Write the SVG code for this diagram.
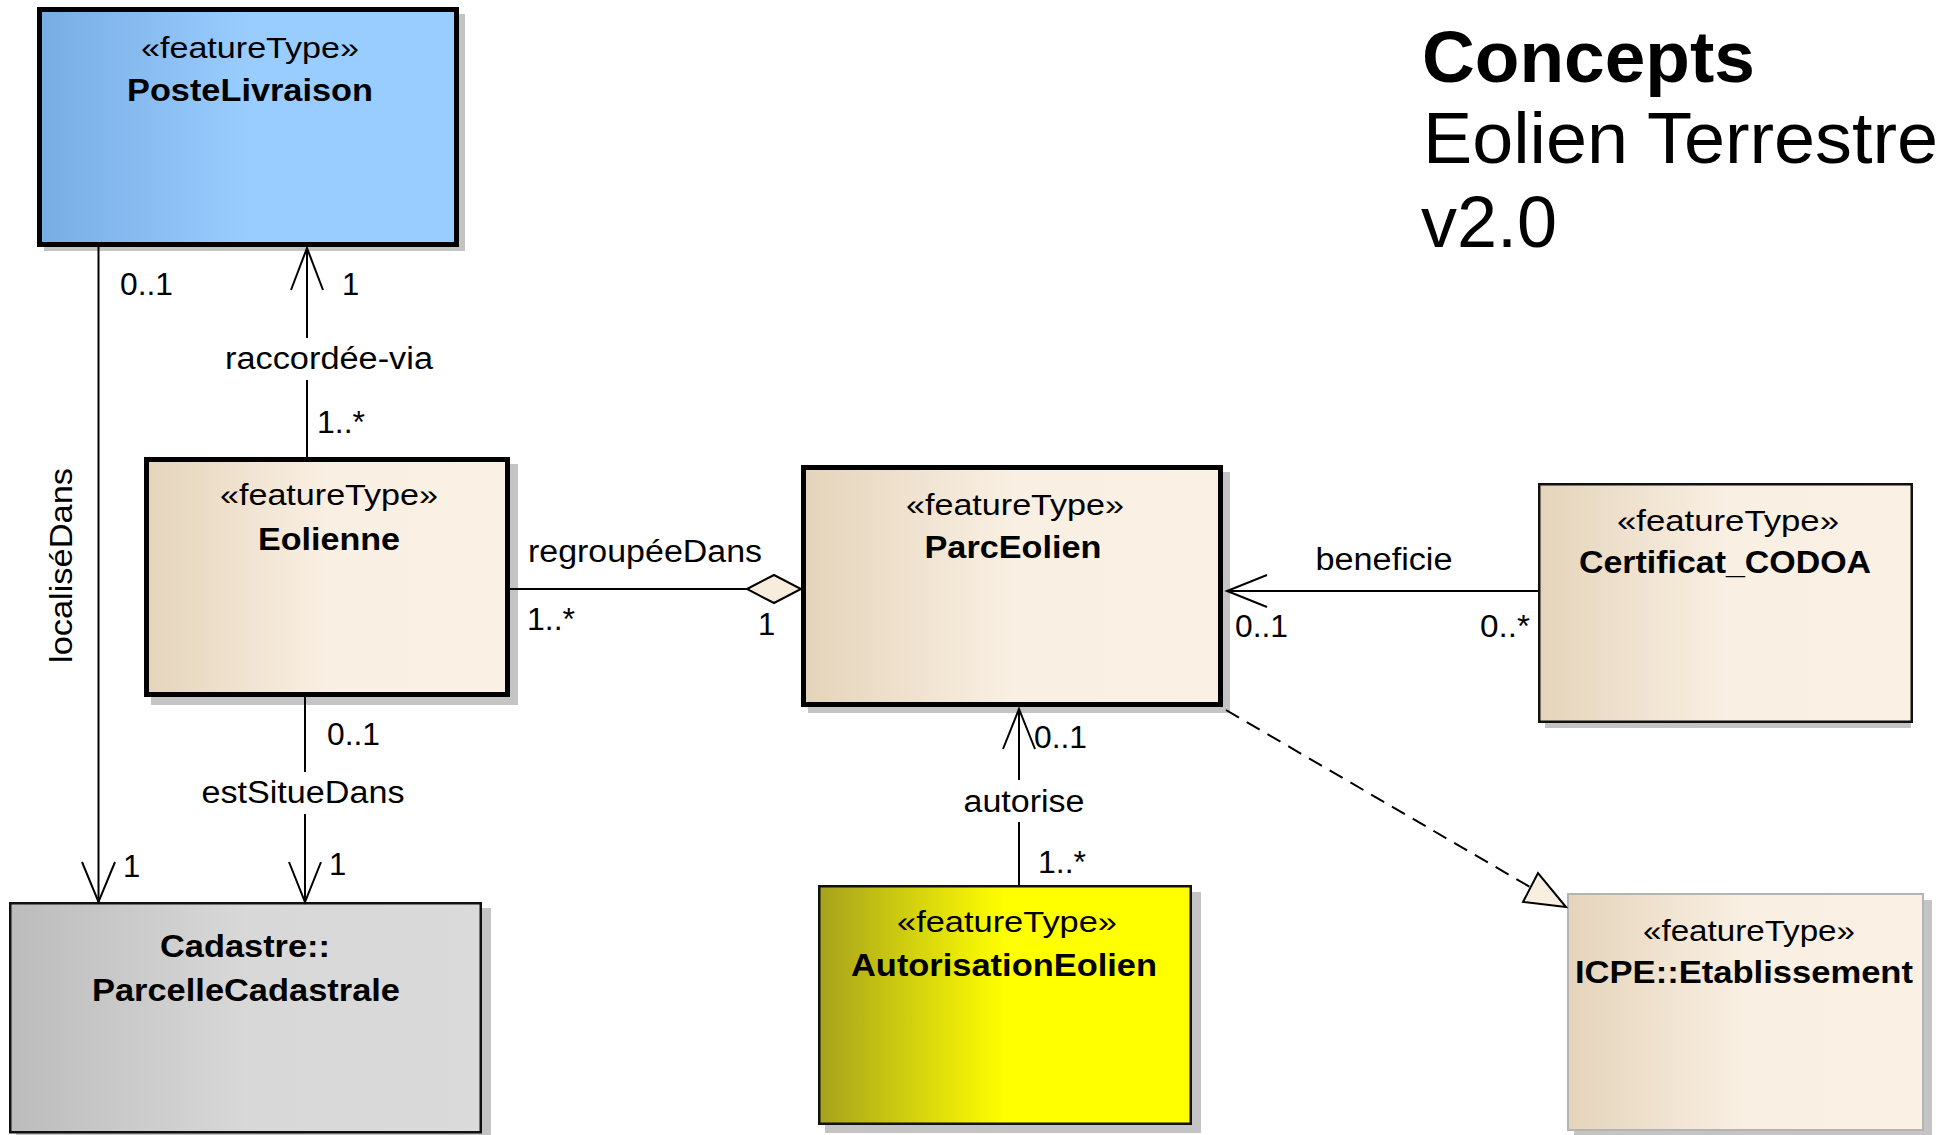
<svg xmlns="http://www.w3.org/2000/svg" width="1939" height="1135" viewBox="0 0 1939 1135">
<style>
text{font-family:"Liberation Sans",Arial,sans-serif;fill:#000}
.st{font-size:30px;text-anchor:middle}
.nm{font-size:31px;font-weight:bold;text-anchor:middle}
.lb{font-size:31px}
.lbm{font-size:31px;text-anchor:middle}
.shadow{fill:#c4c4c4}
.thick{stroke:#000;stroke-width:5}
.thin{stroke:#111;stroke-width:2.5}
.edge{fill:none;stroke:#000;stroke-width:2}
.dash{fill:none;stroke:#000;stroke-width:2;stroke-dasharray:15 9}
.title{font-size:72px}
</style>
<defs>
<linearGradient id="gBlue" x1="0" y1="0" x2="1" y2="0"><stop offset="0" stop-color="#78ade4"/><stop offset="0.5" stop-color="#99ccff"/><stop offset="1" stop-color="#99ccff"/></linearGradient>
<linearGradient id="gBeige" x1="0" y1="0" x2="1" y2="0"><stop offset="0" stop-color="#e5d4bb"/><stop offset="0.5" stop-color="#f9efe2"/><stop offset="1" stop-color="#faf0e4"/></linearGradient>
<linearGradient id="gGray" x1="0" y1="0" x2="1" y2="0"><stop offset="0" stop-color="#bcbcbc"/><stop offset="0.5" stop-color="#d8d8d8"/><stop offset="1" stop-color="#dadada"/></linearGradient>
<linearGradient id="gYellow" x1="0" y1="0" x2="1" y2="0"><stop offset="0" stop-color="#a6a21c"/><stop offset="0.5" stop-color="#ffff00"/><stop offset="1" stop-color="#ffff00"/></linearGradient>
</defs>

<g id="title">
<text class="title" x="1422" y="82" font-weight="bold" textLength="333" lengthAdjust="spacingAndGlyphs">Concepts</text>
<text class="title" x="1423" y="163" textLength="515" lengthAdjust="spacingAndGlyphs">Eolien Terrestre</text>
<text class="title" x="1421" y="247">v2.0</text>
</g>

<g id="PosteLivraison">
<rect class="shadow" x="44" y="14" width="421" height="237"/>
<rect x="39.5" y="9.5" width="417" height="235" fill="url(#gBlue)" class="thick"/>
<text class="st" x="250" y="58" textLength="218" lengthAdjust="spacingAndGlyphs">«featureType»</text>
<text class="nm" x="250" y="101" textLength="246" lengthAdjust="spacingAndGlyphs">PosteLivraison</text>
</g>

<g id="Eolienne">
<rect class="shadow" x="151" y="464" width="367" height="241"/>
<rect x="146.5" y="459.5" width="361" height="235" fill="url(#gBeige)" class="thick"/>
<text class="st" x="329" y="505" textLength="218" lengthAdjust="spacingAndGlyphs">«featureType»</text>
<text class="nm" x="329" y="550" textLength="142" lengthAdjust="spacingAndGlyphs">Eolienne</text>
</g>

<g id="ParcEolien">
<rect class="shadow" x="808" y="472" width="422" height="241"/>
<rect x="803.5" y="467.5" width="417" height="237" fill="url(#gBeige)" class="thick"/>
<text class="st" x="1015" y="515" textLength="218" lengthAdjust="spacingAndGlyphs">«featureType»</text>
<text class="nm" x="1013" y="558" textLength="177" lengthAdjust="spacingAndGlyphs">ParcEolien</text>
</g>

<g id="Certificat_CODOA">
<rect class="shadow" x="1545" y="490" width="366" height="238"/>
<rect x="1539.25" y="484.25" width="372.5" height="237.5" fill="url(#gBeige)" class="thin"/>
<text class="st" x="1728" y="531" textLength="222" lengthAdjust="spacingAndGlyphs">«featureType»</text>
<text class="nm" x="1725" y="573" textLength="292" lengthAdjust="spacingAndGlyphs">Certificat_CODOA</text>
</g>

<g id="ParcelleCadastrale">
<rect class="shadow" x="16" y="908" width="475" height="232"/>
<rect x="10.25" y="903.25" width="470.5" height="229" fill="url(#gGray)" class="thin"/>
<text class="nm" x="245" y="957" textLength="170" lengthAdjust="spacingAndGlyphs">Cadastre::</text>
<text class="nm" x="246" y="1001" textLength="308" lengthAdjust="spacingAndGlyphs">ParcelleCadastrale</text>
</g>

<g id="AutorisationEolien">
<rect class="shadow" x="825" y="892" width="376" height="241"/>
<rect x="819.25" y="886.25" width="371.5" height="237.5" fill="url(#gYellow)" class="thin"/>
<text class="st" x="1007" y="932" textLength="220" lengthAdjust="spacingAndGlyphs">«featureType»</text>
<text class="nm" x="1004" y="976" textLength="306" lengthAdjust="spacingAndGlyphs">AutorisationEolien</text>
</g>

<g id="ICPE_Etablissement">
<rect class="shadow" x="1574" y="900" width="358" height="240"/>
<rect x="1568" y="894" width="355" height="236" fill="url(#gBeige)" stroke="#b4b4b4" stroke-width="2"/>
<text class="st" x="1749" y="941" textLength="212" lengthAdjust="spacingAndGlyphs">«featureType»</text>
<text class="nm" x="1744" y="983" textLength="338" lengthAdjust="spacingAndGlyphs">ICPE::Etablissement</text>
</g>

<g id="connectors">
<g id="e-localiseDans">
<line class="edge" x1="98.5" y1="247" x2="98.5" y2="902"/>
<polyline class="edge" points="82,862 98.5,902 115,862"/>
<text class="lbm" transform="translate(72,565.5) rotate(-90)" x="0" y="0" textLength="195" lengthAdjust="spacingAndGlyphs">localiséDans</text>
<text class="lb" x="120" y="295" textLength="53" lengthAdjust="spacingAndGlyphs">0..1</text>
<text class="lb" x="123" y="877">1</text>
</g>
<g id="e-raccordee">
<line class="edge" x1="307" y1="457" x2="307" y2="380"/>
<line class="edge" x1="307" y1="338" x2="307" y2="248"/>
<polyline class="edge" points="291,290 307,248 323,290"/>
<text class="lbm" x="329" y="369" textLength="208" lengthAdjust="spacingAndGlyphs">raccordée-via</text>
<text class="lb" x="342" y="295">1</text>
<text class="lb" x="317" y="433" textLength="48" lengthAdjust="spacingAndGlyphs">1..*</text>
</g>
<g id="e-estSitueDans">
<line class="edge" x1="305" y1="697" x2="305" y2="772"/>
<line class="edge" x1="305" y1="814" x2="305" y2="902"/>
<polyline class="edge" points="289,862 305,902 321,862"/>
<text class="lbm" x="303" y="803" textLength="203" lengthAdjust="spacingAndGlyphs">estSitueDans</text>
<text class="lb" x="327" y="745" textLength="53" lengthAdjust="spacingAndGlyphs">0..1</text>
<text class="lb" x="329" y="875">1</text>
</g>
<g id="e-regroupeeDans">
<line class="edge" x1="510" y1="589" x2="747" y2="589"/>
<polygon points="747,589 774,575 801,589 774,603" fill="#f8eddc" stroke="#000" stroke-width="2"/>
<text class="lb" x="528" y="562" textLength="234" lengthAdjust="spacingAndGlyphs">regroupéeDans</text>
<text class="lb" x="527" y="630" textLength="48" lengthAdjust="spacingAndGlyphs">1..*</text>
<text class="lb" x="758" y="635">1</text>
</g>
<g id="e-beneficie">
<line class="edge" x1="1538" y1="591" x2="1227" y2="591"/>
<polyline class="edge" points="1267,575 1227,591 1267,607"/>
<text class="lbm" x="1384" y="570" textLength="137" lengthAdjust="spacingAndGlyphs">beneficie</text>
<text class="lb" x="1235" y="637" textLength="53" lengthAdjust="spacingAndGlyphs">0..1</text>
<text class="lb" x="1530" y="637" text-anchor="end" textLength="50" lengthAdjust="spacingAndGlyphs">0..*</text>
</g>
<g id="e-autorise">
<line class="edge" x1="1019" y1="885" x2="1019" y2="822"/>
<line class="edge" x1="1019" y1="780" x2="1019" y2="709"/>
<polyline class="edge" points="1003,749 1019,709 1035,749"/>
<text class="lbm" x="1024" y="812" textLength="121" lengthAdjust="spacingAndGlyphs">autorise</text>
<text class="lb" x="1034" y="748" textLength="53" lengthAdjust="spacingAndGlyphs">0..1</text>
<text class="lb" x="1038" y="873" textLength="48" lengthAdjust="spacingAndGlyphs">1..*</text>
</g>
<g id="e-realization">
<line class="dash" x1="1226" y1="710" x2="1530" y2="887"/>
<polygon points="1566,907 1523,902 1538,873" fill="#f9efe0" stroke="#000" stroke-width="2"/>
</g>
</g>
</svg>
